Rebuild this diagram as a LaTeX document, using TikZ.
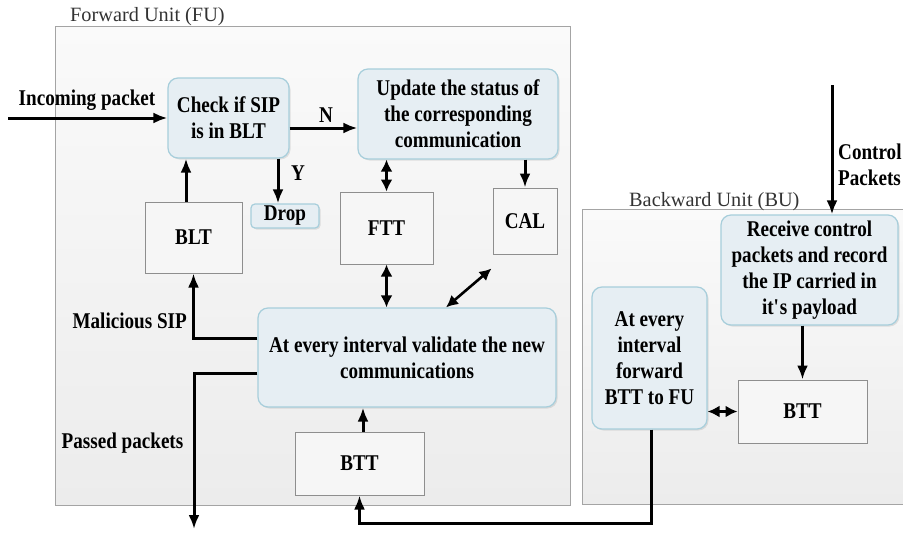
\documentclass[tikz,border=0pt]{standalone}
\usepackage{fontspec}
\setmainfont{Liberation Serif}[FakeStretch=0.85]
\newfontfamily\unittitlefont{Liberation Serif}
\usetikzlibrary{arrows.meta,shadows}

\definecolor{panelTop}{HTML}{FAFAFA}
\definecolor{panelBot}{HTML}{ECECEC}
\definecolor{panelEdge}{HTML}{A4A4A4}
\definecolor{roundFill}{HTML}{E6EEF3}
\definecolor{roundEdge}{HTML}{A7CEDB}
\definecolor{plainFill}{HTML}{F6F6F6}
\definecolor{plainEdge}{HTML}{8E8E8E}
\definecolor{titleInk}{HTML}{333333}

\begin{document}
\begin{tikzpicture}[x=1pt,y=-1pt,
  txt/.style={font=\fontsize{22.5}{26}\selectfont\bfseries, text=black, inner sep=0pt},
  ttl/.style={font=\unittitlefont\fontsize{20.3}{24}\selectfont, text=titleInk, inner sep=0pt},
  rbox/.style={txt, align=center, draw=roundEdge, fill=roundFill, line width=1.2pt,
    rounded corners=10pt,
    drop shadow={opacity=0.2, shadow xshift=1.5pt, shadow yshift=-1.5pt}},
  pbox/.style={txt, draw=plainEdge, fill=plainFill, line width=1pt},
  panel/.style={draw=panelEdge, line width=1pt, top color=panelTop, bottom color=panelBot},
  arr/.style={line width=3pt, -{Latex[length=14pt,width=11pt]}},
  dbl/.style={line width=2.6pt, {Latex[length=12pt,width=12pt]}-{Latex[length=12pt,width=12pt]}}
]
\useasboundingbox (0,0) rectangle (903,533);
\clip (0,0) rectangle (903,533);

% unit panels
\path[panel] (55,26) rectangle (570,505);
\path[panel] (582,209) rectangle (915,504);
\node[ttl, anchor=base west] (futitle) at (70,21) {Forward Unit (FU)};
\node[ttl, anchor=base west] (butitle) at (629,206) {Backward Unit (BU)};

% forward unit
\node[rbox, minimum width=121pt, minimum height=80pt] (check) at (228.5,118) {Check if SIP\\is in BLT};
\node[rbox, minimum width=200pt, minimum height=90pt] (update) at (458,114) {Update the status of\\the corresponding\\communication};
\node[rbox, rounded corners=4pt, minimum width=68pt, minimum height=24pt] (drop) at (285,216) {Drop};
\node[pbox, minimum width=97pt, minimum height=71pt] (blt) at (193.5,237.5) {BLT};
\node[pbox, minimum width=93pt, minimum height=72pt] (ftt) at (386.5,228) {FTT};
\node[pbox, minimum width=64pt, minimum height=66pt] (cal) at (525,221) {CAL};
\node[rbox, minimum width=298pt, minimum height=99pt] (validate) at (407,357.5) {At every interval validate the new\\communications};
\node[pbox, minimum width=129pt, minimum height=63pt] (bttf) at (359.5,463.5) {BTT};

% backward unit
\node[rbox, minimum width=115pt, minimum height=142pt] (atevery) at (649.5,358) {At every\\interval\\forward\\BTT to FU};
\node[rbox, minimum width=177pt, minimum height=110pt] (receive) at (809.5,270) {Receive control\\packets and record\\the IP carried in\\it\textquotesingle s payload};
\node[pbox, minimum width=129pt, minimum height=63pt] (bttb) at (802.5,411.5) {BTT};

% free ends
\coordinate (pin) at (8,118);
\coordinate (pout) at (194,529);
\coordinate (ctl) at (832,85);

% labels
\node[txt] (lin) at (87,100) {Incoming packet};
\node[txt] (ln) at (326,115) {N};
\node[txt] (ly) at (298,173) {Y};
\node[txt, anchor=east] (lmal) at (187,321) {Malicious SIP};
\node[txt] (lpass) at (122.5,443) {Passed packets};
\node[txt, anchor=west, align=left] (lctl) at (838,164.5) {Control\\Packets};

% connectors
\draw[arr] (pin) -- (check.west |- pin);
\draw[arr] ([yshift=-10pt]check.east) coordinate (nstart) -- (nstart -| update.west);
\draw[arr] ([xshift=49.5pt]check.south) coordinate (ystart) -- (ystart |- drop.north);
\draw[arr] ([xshift=-7.5pt]blt.north) coordinate (bup) -- (bup |- check.south);
\draw[dbl] (update.south -| ftt.north) -- (ftt.north);
\draw[arr] (update.south -| cal.north) -- (cal.north);
\draw[dbl] (ftt.south) -- (ftt.south |- validate.north);
\draw[dbl] ([xshift=39pt]validate.north) -- ([xshift=-1pt,yshift=-14pt]cal.south west);
\draw[arr] ([xshift=3.5pt]bttf.north) coordinate (bt) -- (bt |- validate.south);
\draw[arr] ([yshift=19.5pt]validate.west) -| (blt.south);
\draw[arr] ([yshift=-15.5pt]validate.west) -| (pout);

\draw[arr] (ctl) -- (ctl |- receive.north);
\draw[arr] (bttb.north |- receive.south) -- (bttb.north);
\draw[dbl] (atevery.east |- bttb.west) -- (bttb.west);
\draw[arr] ([xshift=1.5pt]atevery.south) -- ++(0,94) -| (bttf.south);
\end{tikzpicture}
\end{document}
